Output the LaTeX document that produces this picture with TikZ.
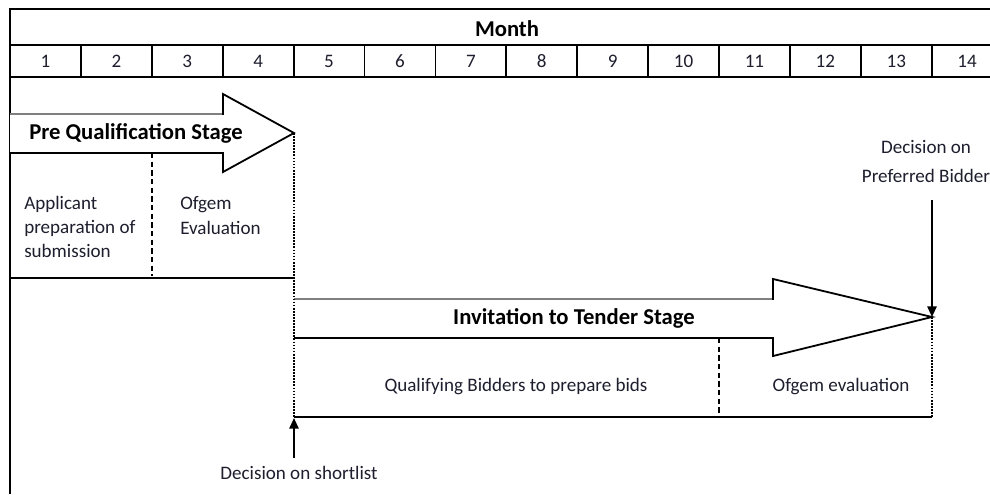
\documentclass[tikz,border=0pt]{standalone}
\usepackage{fontspec}
\setmainfont{Carlito}
\usetikzlibrary{arrows.meta,calc}
\definecolor{txt}{HTML}{1E1E2E}
\definecolor{edgegray}{HTML}{808080}
\begin{document}
\begin{tikzpicture}[x=0.75pt,y=-0.75pt,
  frame/.style={draw=black,line width=1.35pt},
  dashline/.style={draw=black,line width=1.2pt,dash pattern=on 4pt off 2.5pt},
  dotline/.style={draw=black,line width=1.7pt,dash pattern=on 1.3pt off 1pt},
  blockarrow/.style={draw=black,fill=white,line width=1.35pt,line join=miter},
  lbl/.style={text=txt,font=\fontsize{14.3}{18}\selectfont,inner sep=0pt},
  head/.style={text=black,font=\fontsize{17}{20}\selectfont\bfseries,inner sep=0pt},
  ptr/.style={draw=black,line width=1.3pt,-{Triangle[length=8pt,width=7pt]}}]
\useasboundingbox (0,0) rectangle (990,494);
\clip (0,0) rectangle (990,494);
\fill[white] (0,0) rectangle (990,494);
% header table
\draw[frame] (10,494) -- (10,9) -- (1010,9);
\draw[frame] (10,45) -- (1010,45);
\draw[frame] (10,77) -- (1010,77);
\foreach \i in {1,...,14} {
  \draw[frame] ({10+70.9*\i},45) -- ({10+70.9*\i},77);
  \node[lbl] (n\i) at ({10+70.9*(\i-0.5)},61) {\i};
}
\node[head] (month) at (507,29) {Month};
% Pre Qualification stage arrow
\draw[blockarrow] (10,114) -- (223,114) -- (223,94) -- (294,133) -- (223,172) -- (223,153) -- (10,153);
\draw[edgegray,line width=2pt] (10,114) -- (222,114);
\node[head,anchor=west] (pq) at (29,133) {Pre Qualification Stage};
\coordinate (pqtip) at (294,133);
\draw[dashline] (152,153) -- (152,276);
\draw[frame] (10,278) -- (294,278);
\node[lbl,anchor=north west,align=left,font=\fontsize{14.3}{18}\selectfont] (app) at (24,196) {Applicant\\preparation of\\submission};
\node[lbl,anchor=north west,align=left,font=\fontsize{14.3}{19}\selectfont] (ofe) at (180,196) {Ofgem\\Evaluation};
% Invitation to tender arrow
\draw[blockarrow] (294,299) -- (773,299) -- (773,279) -- (932,317) -- (773,356) -- (773,338) -- (294,338);
\draw[edgegray,line width=2pt] (294,299) -- (772,299);
\coordinate (itttip) at (932,317);
\node[head] (itt) at (574,318) {Invitation to Tender Stage};
\draw[dashline] (719,338) -- (719,416);
\draw[frame] (294,417) -- (932,417);
\coordinate (slpt) at (294,418);
\draw[dotline] (pqtip) -- (slpt);
\draw[dotline] (itttip) -- (932,417);
\node[lbl] (qb) at (516,387) {Qualifying Bidders to prepare bids};
\node[lbl] (oe) at (841,387) {Ofgem evaluation};
% decisions
\node[lbl] (dsl) at (299,473) {Decision on shortlist};
\draw[ptr] ($(dsl.north -| slpt)+(0,-8)$) -- (slpt);
\node[lbl,align=center,font=\fontsize{14.3}{21.75}\selectfont] (dpb) at (926,161) {Decision on\\Preferred Bidder};
\draw[ptr] ($(dpb.south -| itttip)+(0,18)$) -- (itttip);
\end{tikzpicture}
\end{document}
